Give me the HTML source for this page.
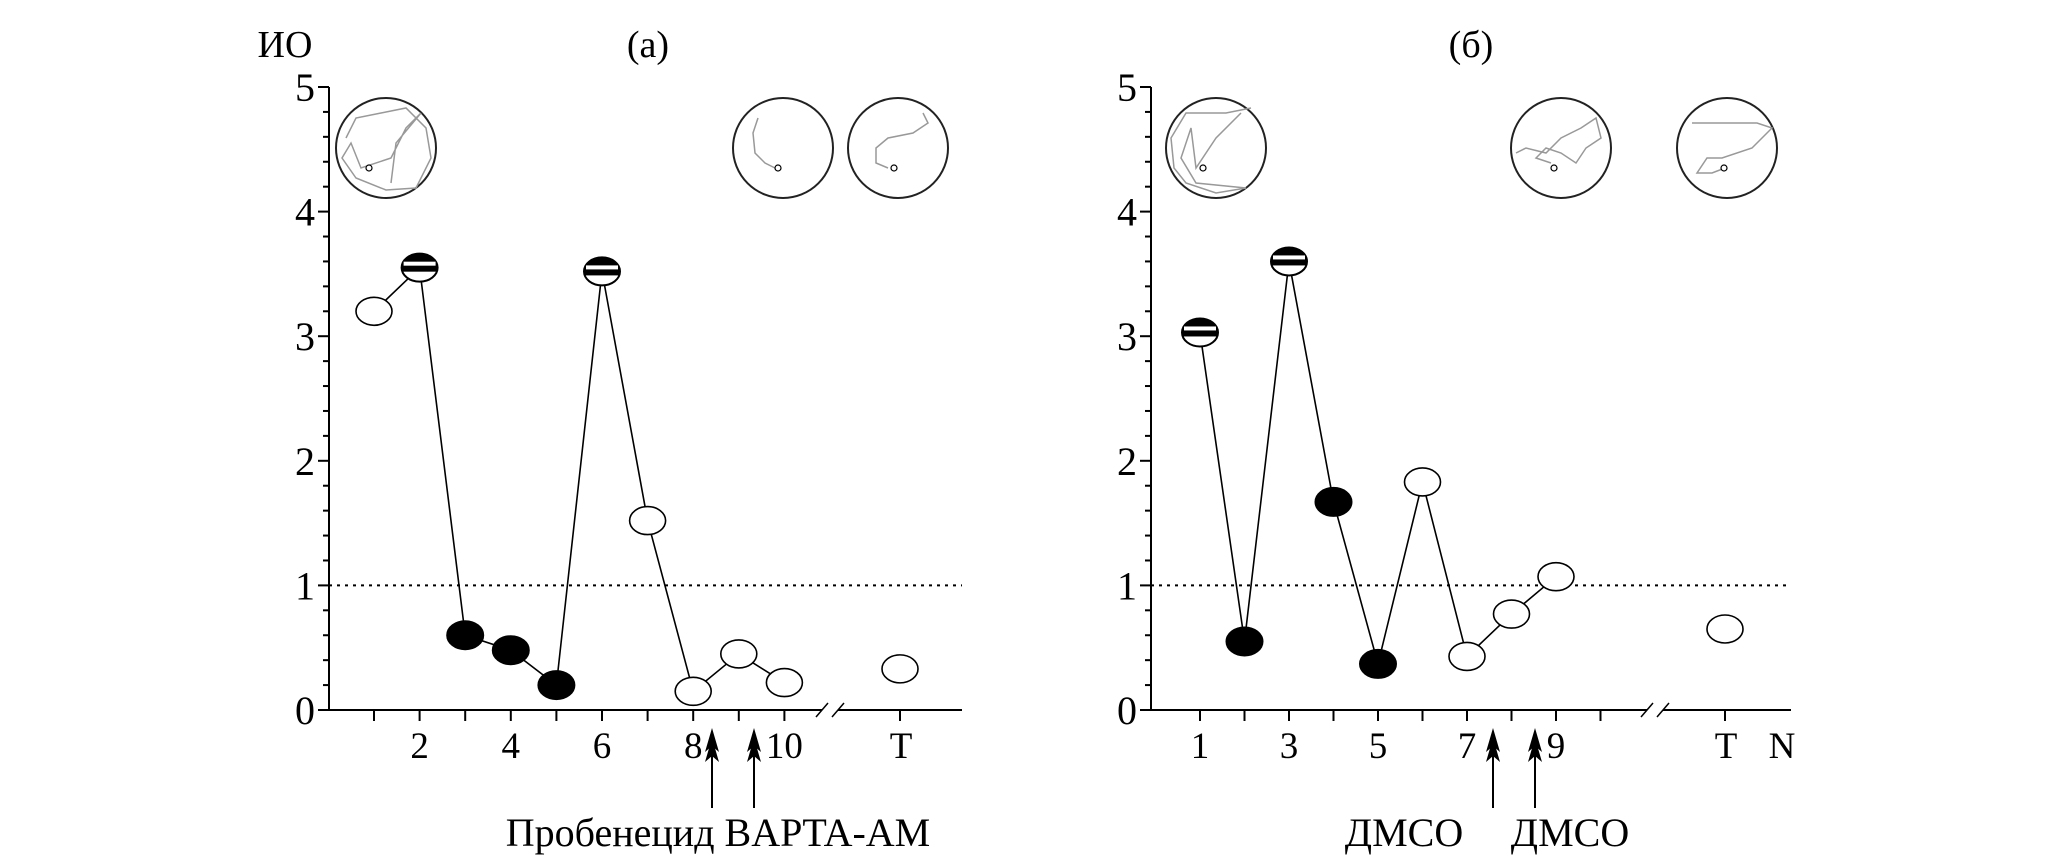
<!DOCTYPE html>
<html><head><meta charset="utf-8">
<style>
html,body{margin:0;padding:0;background:#fff;}
svg{display:block;font-family:"Liberation Serif",serif;}
</style></head>
<body>
<svg id="chart" width="2067" height="865" viewBox="0 0 2067 865" xmlns="http://www.w3.org/2000/svg"></svg>
<script>
// Panel (a) data
const aCategories = ["1","2","3","4","5","6","7","8","9","10"];
const aValues = [3.2, 3.55, 0.6, 0.48, 0.2, 3.52, 1.52, 0.15, 0.45, 0.22];
const aTypes = ["open","half","filled","filled","filled","half","open","open","open","open"];
const aTestValue = 0.33;
const aTickLabels = ["2","4","6","8","10"];
// Panel (b) data
const bCategories = ["1","2","3","4","5","6","7","8","9"];
const bValues = [3.03, 0.55, 3.6, 1.67, 0.37, 1.83, 0.43, 0.77, 1.07];
const bTypes = ["half","filled","half","filled","filled","open","open","open","open"];
const bTestValue = 0.65;
const bTickLabels = ["1","3","5","7","9"];
const yTicks = [0,1,2,3,4,5];

const NS = "http://www.w3.org/2000/svg";
const svg = document.getElementById("chart");
function mk(tag, attrs, parent){
  const e = document.createElementNS(NS, tag);
  for (const k in attrs) e.setAttribute(k, attrs[k]);
  (parent||svg).appendChild(e);
  return e;
}
function txt(x,y,s,size,anchor,parent){
  const t = mk("text",{x:x,y:y,"font-size":size,"text-anchor":anchor||"middle","fill":"#000"},parent);
  t.textContent = s;
  return t;
}
const Y0 = 710, Y5 = 87;

function panel(cfg){
  const g = mk("g",{});
  
  
  const yS = v => Y0 - (Y0 - Y5) * v / 5;
  const xS = i => cfg.x1 + (i - 1) * cfg.step;
  const ya = mk("line",{x1:cfg.ax,y1:Y5,x2:cfg.ax,y2:Y0,stroke:"#000","stroke-width":2},g);
  
  
  for (let k=0;k<=25;k++){
    const v = k*0.2, major = (k%5===0);
    mk("line",{x1:cfg.ax-(major?11:6),y1:yS(v),x2:cfg.ax,y2:yS(v),stroke:"#000","stroke-width":2},g);
  }
  yTicks.forEach(v=>{
    const t = txt(cfg.ax-14, yS(v)+14, String(v), 40, "end", g);
    
    
  });
  const xa1 = mk("line",{x1:cfg.ax-10,y1:Y0,x2:cfg.brk-8,y2:Y0,stroke:"#000","stroke-width":2},g);
  
  
  mk("line",{x1:cfg.brk+8,y1:Y0,x2:cfg.end,y2:Y0,stroke:"#000","stroke-width":2},g);
  mk("line",{x1:cfg.brk-14,y1:Y0+7,x2:cfg.brk-2,y2:Y0-7,stroke:"#000","stroke-width":1.5},g);
  mk("line",{x1:cfg.brk+2,y1:Y0+7,x2:cfg.brk+14,y2:Y0-7,stroke:"#000","stroke-width":1.5},g);
  for (let i=1;i<=10;i++) mk("line",{x1:xS(i),y1:Y0,x2:xS(i),y2:Y0+11,stroke:"#000","stroke-width":2},g);
  mk("line",{x1:cfg.tx,y1:Y0,x2:cfg.tx,y2:Y0+11,stroke:"#000","stroke-width":2},g);
  cfg.tickLabels.forEach(s=>{
    const t = txt(xS(+s), 758, s, 37, "middle", g);
    
    
  });
  const tl = txt(cfg.tx+1, 758, "T", 37, "middle", g);
  
  
  const th = mk("line",{x1:cfg.ax,y1:yS(1),x2:cfg.end,y2:yS(1),stroke:"#000","stroke-width":2,"stroke-dasharray":"3,5"},g);
  
  
  const pts = cfg.values.map((v,i)=>xS(i+1)+","+yS(v)).join(" ");
  const pl = mk("polyline",{points:pts,fill:"none",stroke:"#000","stroke-width":1.6},g);
  
  
  function marker(cx,cy,type){
    const mg = mk("g",{},g);
    
    
    const rx=18, ry=14;
    if (type==="filled"){
      mk("ellipse",{cx:cx,cy:cy,rx:rx,ry:ry,fill:"#000",stroke:"#000","stroke-width":2},mg);
    } else if (type==="half"){
      mk("ellipse",{cx:cx,cy:cy,rx:rx,ry:ry,fill:"#fff",stroke:"#000","stroke-width":2},mg);
      mk("path",{d:`M${cx-rx},${cy} A${rx},${ry} 0 0 1 ${cx+rx},${cy} Z`,fill:"#000"},mg);
      mk("rect",{x:cx-rx+2,y:cy-6,width:2*rx-4,height:4,fill:"#fff"},mg);
      mk("rect",{x:cx-rx,y:cy-1,width:2*rx,height:5,fill:"#000"},mg);
    } else {
      mk("ellipse",{cx:cx,cy:cy,rx:rx,ry:ry,fill:"#fff",stroke:"#000","stroke-width":1.6},mg);
    }
  }
  cfg.values.forEach((v,i)=>marker(xS(i+1), yS(v), cfg.types[i]));
  marker(cfg.tx, yS(cfg.testValue), "open");
  cfg.arrows.forEach(ax=>{
    const ag = mk("g",{},g);
    
    
    mk("line",{x1:ax,y1:808,x2:ax,y2:740,stroke:"#000","stroke-width":2},ag);
    mk("path",{d:`M${ax},728 L${ax-7},752 L${ax},746 L${ax+7},752 Z`,fill:"#000"},ag);
    mk("path",{d:`M${ax},738 L${ax-7},762 L${ax},756 L${ax+7},762 Z`,fill:"#000"},ag);
  });
  cfg.labels.forEach(l=>{
    const t = txt(l[0], 846, l[1], 40, "middle", g);
    
    
  });
  cfg.insets.forEach((ins)=>{
    const ig = mk("g",{},g);
    
    
    const cx=ins[0], cy=148;
    mk("ellipse",{cx:cx,cy:cy,rx:50,ry:50,fill:"#fff",stroke:"#222","stroke-width":2},ig);
    mk("polyline",{points:ins[1].map(p=>(cx+p[0])+","+(cy+p[1])).join(" "),fill:"none",stroke:"#999","stroke-width":1.5},ig);
    mk("ellipse",{cx:cx+ins[2][0],cy:cy+ins[2][1],rx:3,ry:3,fill:"#fff",stroke:"#000","stroke-width":1.2},ig);
  });
}

panel({name:"panel-a", ax:329, x1:374, step:45.6, brk:830, tx:900, end:962,
  values:aValues, types:aTypes, testValue:aTestValue, tickLabels:aTickLabels,
  arrows:[712,754], labels:[[718,"Пробенецид BAPTA-AM"]],
  insets:[[386,[[-40,-10],[-30,-30],[-5,-35],[20,-40],[40,-20],[45,10],[30,40],[0,42],[-30,30],[-44,10],[-35,-5],[-25,20],[5,10],[20,-20],[35,-35],[10,-5],[5,35]],[-17,20]],
          [783,[[-25,-30],[-30,-15],[-28,5],[-18,15],[-8,20]],[-5,20]],
          [898,[[25,-35],[30,-25],[15,-15],[-10,-10],[-22,0],[-22,15],[-10,20]],[-4,20]]]
});
panel({name:"panel-b", ax:1151, x1:1200, step:44.5, brk:1655, tx:1725, end:1791,
  values:bValues, types:bTypes, testValue:bTestValue, tickLabels:bTickLabels,
  arrows:[1493,1535], labels:[[1404,"ДМСО"],[1570,"ДМСО"]],
  insets:[[1216,[[35,-40],[10,-35],[-30,-35],[-45,-10],[-42,20],[-30,35],[0,45],[30,40],[-20,35],[-35,10],[-25,-20],[-20,20],[0,-10],[25,-35]],[-13,20]],
          [1561,[[-45,5],[-35,0],[-15,5],[0,-10],[20,-20],[35,-30],[40,-10],[25,0],[15,15],[0,5],[-15,0],[-25,10],[-10,15]],[-7,20]],
          [1727,[[-35,-25],[30,-25],[45,-20],[25,0],[-5,10],[-20,10],[-30,25],[-15,25],[-2,20]],[-3,20]]]
});
const yTitle = txt(285, 57, "ИО", 38, "middle");


const ta = txt(648, 57, "(a)", 38, "middle");


const tb = txt(1471, 57, "(б)", 38, "middle");


const nl = txt(1782, 758, "N", 37, "middle");


</script>
</body></html>
